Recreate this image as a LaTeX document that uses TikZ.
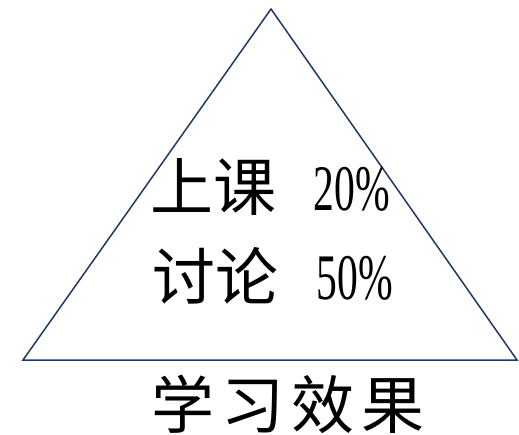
\documentclass[tikz,border=0pt]{standalone}
\usepackage{fontspec}
\usepackage{graphicx}
\setmainfont{Liberation Serif}
\newfontfamily\cjk{Noto Sans CJK SC}
\definecolor{navy}{HTML}{1F3864}
\tikzset{
  edge/.style={draw=navy, line width=1.5pt, line join=miter},
  zh/.style={inner sep=0pt, font=\cjk\fontsize{63}{63}\selectfont},
  num/.style={inner sep=0pt},
}
\newcommand{\pct}[1]{\scalebox{0.64}[1]{\fontsize{65}{65}\selectfont #1}}
\begin{document}
\begin{tikzpicture}[x=1pt,y=-1pt]
\useasboundingbox (0,0) rectangle (519,435);
\coordinate (A) at (271,9);
\coordinate (B) at (23,360);
\coordinate (C) at (517,360);
\draw[edge] (A) -- (B) -- (C) -- cycle;
\node[zh] (l1) at (213,187) {上课};
\node[num] (p1) at (352,189) {\pct{20\%}};
\node[zh] (l2) at (215,276) {讨论};
\node[num] (p2) at (355,278) {\pct{50\%}};
\node[zh] (t) at (288,404) {学\hspace{7pt}习\hspace{7pt}效\hspace{7pt}果};
\end{tikzpicture}
\end{document}
